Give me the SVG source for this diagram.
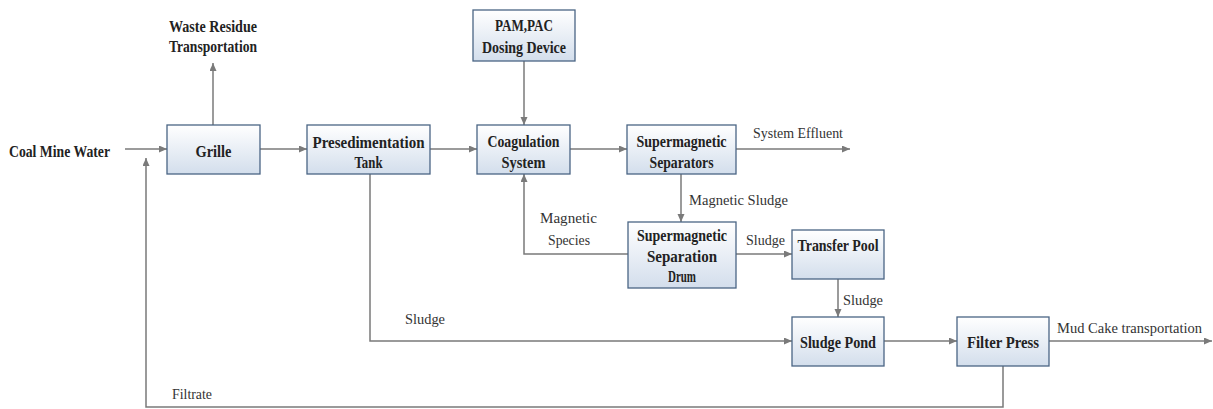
<svg xmlns="http://www.w3.org/2000/svg" width="1213" height="409" viewBox="0 0 1213 409">
  <defs>
    <linearGradient id="boxfill" x1="0" y1="0" x2="0" y2="1">
      <stop offset="0" stop-color="#ffffff"/>
      <stop offset="1" stop-color="#d3deec"/>
    </linearGradient>
    <marker id="arr" markerUnits="userSpaceOnUse" markerWidth="9" markerHeight="8" refX="8" refY="3.5" orient="auto">
      <path d="M0,0 L8,3.5 L0,7 z" fill="#7a7a7a"/>
    </marker>
    <style>
      .box { fill: url(#boxfill); stroke: #4a6584; stroke-width: 1.3; }
      .b { font-family: "Liberation Serif", "Times New Roman", serif; font-weight: bold; font-size: 16px; fill: #222; text-anchor: middle; }
      .r { font-family: "Liberation Serif", "Times New Roman", serif; font-size: 15.5px; fill: #333; }
      .c { fill: none; stroke: #7a7a7a; stroke-width: 1.5; }
      .ca { fill: none; stroke: #7a7a7a; stroke-width: 1.5; marker-end: url(#arr); }
    </style>
  </defs>
  <rect width="1213" height="409" fill="#ffffff"/>

  <g id="connectors">
    <path class="ca" d="M125,149 H167"/>
    <path class="ca" d="M213,125 V63"/>
    <path class="ca" d="M260,149 H307"/>
    <path class="ca" d="M430,149 H477"/>
    <path class="ca" d="M524,61 V125"/>
    <path class="ca" d="M570,149 H627"/>
    <path class="ca" d="M736,149 H850"/>
    <path class="ca" d="M681,174 V222"/>
    <path class="ca" d="M628,254 H524 V174"/>
    <path class="ca" d="M736,254 H792"/>
    <path class="ca" d="M838,279 V317"/>
    <path class="ca" d="M370,174 V341 H792"/>
    <path class="ca" d="M884,341 H957"/>
    <path class="ca" d="M1049,341 H1212"/>
    <path class="ca" d="M1003,366 V407 H146 V158"/>
  </g>

  <g id="labels">
    <text class="b" x="59.5" y="157" textLength="101" lengthAdjust="spacingAndGlyphs">Coal Mine Water</text>
    <text class="b" x="213" y="32" textLength="88" lengthAdjust="spacingAndGlyphs">Waste Residue</text>
    <text class="b" x="213" y="52" textLength="88" lengthAdjust="spacingAndGlyphs">Transportation</text>
    <text class="r" x="753" y="138" textLength="90" lengthAdjust="spacingAndGlyphs">System Effluent</text>
    <text class="r" x="689" y="205" textLength="99" lengthAdjust="spacingAndGlyphs">Magnetic Sludge</text>
    <text class="r" x="540" y="223" textLength="57" lengthAdjust="spacingAndGlyphs">Magnetic</text>
    <text class="r" x="548" y="245" textLength="42" lengthAdjust="spacingAndGlyphs">Species</text>
    <text class="r" x="746" y="245" textLength="39" lengthAdjust="spacingAndGlyphs">Sludge</text>
    <text class="r" x="843" y="305" textLength="40" lengthAdjust="spacingAndGlyphs">Sludge</text>
    <text class="r" x="405" y="324" textLength="40" lengthAdjust="spacingAndGlyphs">Sludge</text>
    <text class="r" x="1057" y="333" textLength="145" lengthAdjust="spacingAndGlyphs">Mud Cake transportation</text>
    <text class="r" x="172" y="399" textLength="40" lengthAdjust="spacingAndGlyphs">Filtrate</text>
  </g>

  <g id="grille">
    <rect class="box" x="167" y="125" width="93" height="49"/>
    <text class="b" x="213.5" y="157" textLength="36" lengthAdjust="spacingAndGlyphs">Grille</text>
  </g>
  <g id="presedimentation">
    <rect class="box" x="307" y="125" width="123" height="49"/>
    <text class="b" x="368.5" y="148" textLength="112" lengthAdjust="spacingAndGlyphs">Presedimentation</text>
    <text class="b" x="368.5" y="168" textLength="28" lengthAdjust="spacingAndGlyphs">Tank</text>
  </g>
  <g id="dosing">
    <rect class="box" x="473" y="10" width="102" height="51"/>
    <text class="b" x="524" y="31" textLength="58" lengthAdjust="spacingAndGlyphs">PAM,PAC</text>
    <text class="b" x="524" y="53" textLength="84" lengthAdjust="spacingAndGlyphs">Dosing Device</text>
  </g>
  <g id="coagulation">
    <rect class="box" x="477" y="125" width="93" height="49"/>
    <text class="b" x="523.5" y="147" textLength="72" lengthAdjust="spacingAndGlyphs">Coagulation</text>
    <text class="b" x="523.5" y="168" textLength="44" lengthAdjust="spacingAndGlyphs">System</text>
  </g>
  <g id="separators">
    <rect class="box" x="627" y="125" width="109" height="49"/>
    <text class="b" x="681.5" y="147" textLength="90" lengthAdjust="spacingAndGlyphs">Supermagnetic</text>
    <text class="b" x="681.5" y="168" textLength="64" lengthAdjust="spacingAndGlyphs">Separators</text>
  </g>
  <g id="drum">
    <rect class="box" x="628" y="222" width="108" height="66"/>
    <text class="b" x="682" y="241" textLength="90" lengthAdjust="spacingAndGlyphs">Supermagnetic</text>
    <text class="b" x="682" y="262" textLength="70" lengthAdjust="spacingAndGlyphs">Separation</text>
    <text class="b" x="682" y="282" textLength="28" lengthAdjust="spacingAndGlyphs">Drum</text>
  </g>
  <g id="transfer">
    <rect class="box" x="792" y="230" width="92" height="49"/>
    <text class="b" x="838" y="251" textLength="81" lengthAdjust="spacingAndGlyphs">Transfer Pool</text>
  </g>
  <g id="sludgepond">
    <rect class="box" x="792" y="317" width="92" height="49"/>
    <text class="b" x="838" y="348" textLength="76" lengthAdjust="spacingAndGlyphs">Sludge Pond</text>
  </g>
  <g id="filterpress">
    <rect class="box" x="957" y="317" width="92" height="49"/>
    <text class="b" x="1003" y="348" textLength="72" lengthAdjust="spacingAndGlyphs">Filter Press</text>
  </g>
</svg>
